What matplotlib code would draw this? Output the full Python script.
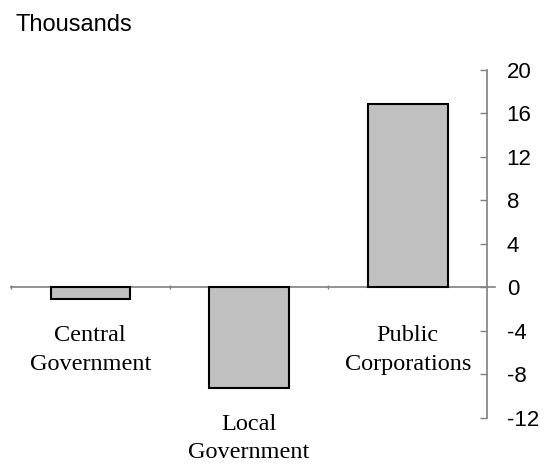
import matplotlib.pyplot as plt

categories = ["Central\nGovernment", "Local\nGovernment", "Public\nCorporations"]
values = [-1.1, -9.2, 16.9]
label_y = [-5.75, -13.9, -5.75]
yTicks = [-12, -8, -4, 0, 4, 8, 12, 16, 20]

barColor = "#C0C0C0"
axisColor = "#808080"
sansFont = "Liberation Sans"
serifFont = "Liberation Serif"

fig = plt.figure(figsize=(5.45, 4.66), dpi=100)
ax = fig.add_axes([0.020, 0.103, 0.874, 0.747])

x = list(range(len(values)))
ax.bar(x, values, width=0.5, color=barColor, edgecolor="black", linewidth=1.5, zorder=3)

ax.set_xlim(-0.5, 2.5)
ax.set_ylim(-12, 20)

# right-hand value axis
ax.yaxis.tick_right()
ax.set_yticks(yTicks)
ax.set_yticklabels([str(t) for t in yTicks], fontfamily=sansFont, fontsize=16)
ax.tick_params(axis="y", direction="in", length=5, width=1, color=axisColor, pad=14)
for side in ["left", "top"]:
    ax.spines[side].set_visible(False)
ax.spines["right"].set_color(axisColor)
ax.spines["right"].set_linewidth(1.2)

# zero line with category separators, running a little past the value axis
ax.spines["bottom"].set_visible(False)
ax.plot([-0.5, 2.55], [0, 0], color=axisColor, linewidth=1.2, clip_on=False, zorder=2)
ax.set_xticks([-0.5, 0.5, 1.5])
ax.set_xticklabels([])
ax.tick_params(axis="x", direction="out", length=0)
ax.plot([-0.5, 0.5, 1.5], [0, 0, 0], linestyle="none", marker="|", markersize=3,
        color=axisColor, clip_on=False, zorder=2)

for xi, name, ly in zip(x, categories, label_y):
    ax.text(xi, ly, name, ha="center", va="center", fontfamily=serifFont,
            fontsize=17.5, linespacing=1.47, clip_on=False)

fig.text(15 / 545, 1 - 25 / 466, "Thousands", ha="left", va="center",
         fontfamily=sansFont, fontsize=17)

fig.savefig("out.png", dpi=100)
